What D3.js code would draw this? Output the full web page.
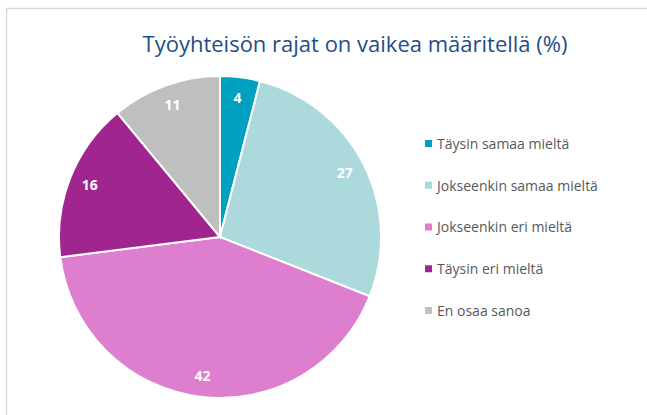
<!DOCTYPE html>
<html>
<head>
<meta charset="utf-8">
<script src="https://cdn.jsdelivr.net/npm/d3@7"></script>
<style>
  body { margin: 0; background: #fff; }
  svg { display: block; }
</style>
</head>
<body>
<svg id="chart"></svg>
<script>
var dimensions = { width: 647, height: 415 };

var categories = ["Täysin samaa mieltä", "Jokseenkin samaa mieltä", "Jokseenkin eri mieltä", "Täysin eri mieltä", "En osaa sanoa"];
var values = [4, 27, 42, 16, 11];
var colors = ["#00A0C0", "#ABD9DC", "#DE7ECF", "#A0258E", "#BFBFBF"];

var svg = d3.select("#chart")
            .attr("width", dimensions.width)
            .attr("height", dimensions.height)
            .style("font-family", "'Open Sans', sans-serif");

// frame of the chart area
svg.append("path")
    .attr("d", "M6.5," + dimensions.height + "V8.5H" + dimensions.width)
    .attr("fill", "none")
    .attr("stroke", "#d9d9d9")
    .attr("stroke-width", 1.5)

svg.append("text")
    .attr("x", 355)
    .attr("y", 52)
    .attr("text-anchor", "middle")
    .attr("fill", "#1F4E86")
    .style("font-size", "22px")
    .text("Työyhteisön rajat on vaikea määritellä (%)")

var data = categories.map((c, i) => ({ name: c, value: values[i], color: colors[i] }));

var cx = 220, cy = 237, radius = 161;

var pie = d3.pie().value(d => d.value).sort(null);
var arc = d3.arc().innerRadius(0).outerRadius(radius);
var labelArc = d3.arc().innerRadius(radius * 0.87).outerRadius(radius * 0.87);

var g = svg.append("g")
    .attr("transform", `translate(${cx},${cy})`)

var slices = g.selectAll("path")
    .data(pie(data))
    .enter()
    .append("path")
    .attr("d", arc)
    .attr("fill", d => d.data.color)
    .attr("stroke", "#fff")
    .attr("stroke-width", 2)

g.selectAll("text")
    .data(pie(data))
    .enter()
    .append("text")
    .attr("transform", d => `translate(${labelArc.centroid(d)})`)
    .attr("text-anchor", "middle")
    .attr("dy", "0.35em")
    .attr("fill", "#fff")
    .style("font-size", "14px")
    .style("font-weight", "bold")
    .text(d => d.data.value)

// legend
var legendY = d3.scalePoint()
    .domain(categories)
    .range([144, 311]);

var legend = svg.selectAll(".legend")
    .data(data)
    .enter()
    .append("g")
    .attr("class", "legend")
    .attr("transform", d => `translate(425,${legendY(d.name)})`)

legend.append("rect")
    .attr("x", 0)
    .attr("y", -4)
    .attr("width", 7)
    .attr("height", 7)
    .attr("fill", d => d.color)

legend.append("text")
    .attr("x", 12)
    .attr("y", 0)
    .attr("dy", "0.35em")
    .attr("fill", "#595959")
    .style("font-size", "14px")
    .text(d => d.name)
</script>
</body>
</html>
